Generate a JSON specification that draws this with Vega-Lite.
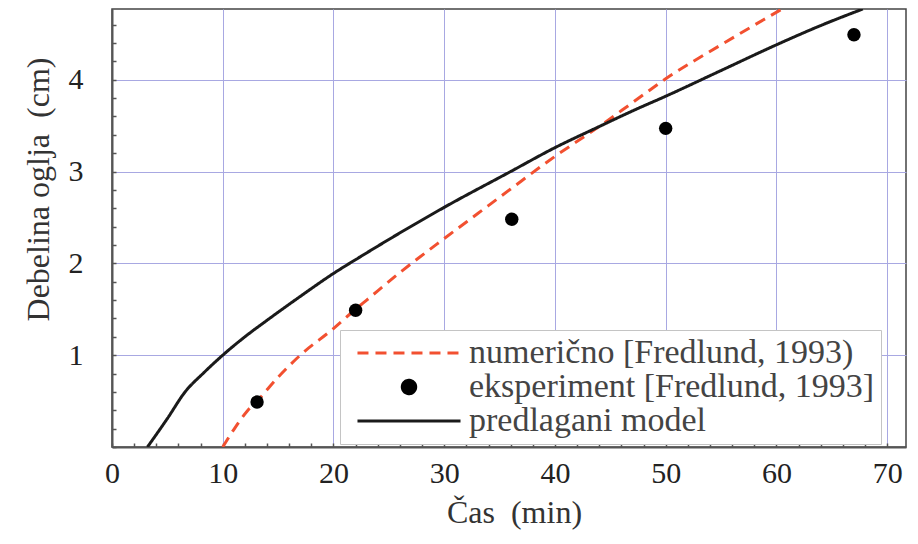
{
  "$schema": "https://vega.github.io/schema/vega-lite/v6.json",
  "autosize": "none",
  "width": 794,
  "height": 438,
  "padding": {"left": 112, "top": 9, "right": 12, "bottom": 97},
  "background": "white",
  "config": {
    "view": {"stroke": "#444", "strokeWidth": 1.5},
    "font": "Liberation Serif"
  },
  "datasets": {
    "curves": [
      {"series": "numerično [Fredlund, 1993)", "t": 10, "v": 0},
      {"series": "numerično [Fredlund, 1993)", "t": 11, "v": 0.19},
      {"series": "numerično [Fredlund, 1993)", "t": 12.2, "v": 0.39},
      {"series": "numerično [Fredlund, 1993)", "t": 13.1, "v": 0.5},
      {"series": "numerično [Fredlund, 1993)", "t": 15, "v": 0.76},
      {"series": "numerično [Fredlund, 1993)", "t": 17, "v": 1.0},
      {"series": "numerično [Fredlund, 1993)", "t": 19.9, "v": 1.28},
      {"series": "numerično [Fredlund, 1993)", "t": 21.9, "v": 1.49},
      {"series": "numerično [Fredlund, 1993)", "t": 23, "v": 1.6},
      {"series": "numerično [Fredlund, 1993)", "t": 26, "v": 1.9},
      {"series": "numerično [Fredlund, 1993)", "t": 30, "v": 2.27},
      {"series": "numerično [Fredlund, 1993)", "t": 33, "v": 2.54},
      {"series": "numerično [Fredlund, 1993)", "t": 36, "v": 2.81},
      {"series": "numerično [Fredlund, 1993)", "t": 40, "v": 3.165},
      {"series": "numerično [Fredlund, 1993)", "t": 43.75, "v": 3.47},
      {"series": "numerično [Fredlund, 1993)", "t": 47, "v": 3.75},
      {"series": "numerično [Fredlund, 1993)", "t": 50, "v": 4.01},
      {"series": "numerično [Fredlund, 1993)", "t": 55, "v": 4.38},
      {"series": "numerično [Fredlund, 1993)", "t": 60.5, "v": 4.77},
      {"series": "predlagani model", "t": 3.2, "v": 0},
      {"series": "predlagani model", "t": 5, "v": 0.31},
      {"series": "predlagani model", "t": 6.6, "v": 0.6},
      {"series": "predlagani model", "t": 8.3, "v": 0.81},
      {"series": "predlagani model", "t": 10, "v": 1.0},
      {"series": "predlagani model", "t": 12, "v": 1.2},
      {"series": "predlagani model", "t": 14, "v": 1.38},
      {"series": "predlagani model", "t": 17, "v": 1.64},
      {"series": "predlagani model", "t": 20, "v": 1.89},
      {"series": "predlagani model", "t": 22.4, "v": 2.07},
      {"series": "predlagani model", "t": 25, "v": 2.26},
      {"series": "predlagani model", "t": 30, "v": 2.61},
      {"series": "predlagani model", "t": 36, "v": 3.0},
      {"series": "predlagani model", "t": 40, "v": 3.26},
      {"series": "predlagani model", "t": 44, "v": 3.49},
      {"series": "predlagani model", "t": 47, "v": 3.66},
      {"series": "predlagani model", "t": 50, "v": 3.82},
      {"series": "predlagani model", "t": 55, "v": 4.1},
      {"series": "predlagani model", "t": 60, "v": 4.38},
      {"series": "predlagani model", "t": 64, "v": 4.59},
      {"series": "predlagani model", "t": 67.8, "v": 4.77}
    ],
    "points": [
      {"series": "eksperiment [Fredlund, 1993]", "t": 13.1, "v": 0.49},
      {"series": "eksperiment [Fredlund, 1993]", "t": 22, "v": 1.49},
      {"series": "eksperiment [Fredlund, 1993]", "t": 36.1, "v": 2.48},
      {"series": "eksperiment [Fredlund, 1993]", "t": 50, "v": 3.47},
      {"series": "eksperiment [Fredlund, 1993]", "t": 67, "v": 4.49}
    ]
  },
  "encoding": {
    "x": {
      "field": "t",
      "type": "quantitative",
      "scale": {"domain": [0, 71.7], "nice": false, "zero": false},
      "axis": {
        "values": [0,2,4,6,8,10,12,14,16,18,20,22,24,26,28,30,32,34,36,38,40,42,44,46,48,50,52,54,56,58,60,62,64,66,68,70],
        "labelExpr": "datum.value % 10 === 0 ? format(datum.value, 'd') : ''",
        "labelFont": "Liberation Serif",
        "labelFontSize": 30,
        "labelColor": "#222",
        "labelBaseline": "alphabetic",
        "labelPadding": 39,
        "labelFlush": false,
        "labelOverlap": false,
        "grid": true,
        "gridColor": "#a8a8e2",
        "gridWidth": 1,
        "gridOpacity": {"condition": {"test": "datum.value % 10 === 0 && datum.value > 0", "value": 1}, "value": 0},
        "ticks": true,
        "tickSize": -4,
        "tickColor": "#555",
        "tickWidth": 1.5,
        "domain": true,
        "domainColor": "#555",
        "domainWidth": 2,
        "title": "Čas\u00a0\u00a0(min)",
        "titleFont": "Liberation Serif",
        "titleFontSize": 32,
        "titleFontWeight": "normal",
        "titleColor": "#333",
        "titleX": 402,
        "titleY": 75,
        "titleAlign": "center",
        "titleBaseline": "alphabetic"
      }
    },
    "y": {
      "field": "v",
      "type": "quantitative",
      "scale": {"domain": [0, 4.77], "nice": false, "zero": false},
      "axis": {
        "values": [0,0.2,0.4,0.6,0.8,1,1.2,1.4,1.6,1.8,2,2.2,2.4,2.6,2.8,3,3.2,3.4,3.6,3.8,4,4.2,4.4,4.6],
        "labelExpr": "datum.value > 0 && abs(datum.value - round(datum.value)) < 0.001 ? format(datum.value, 'd') : ''",
        "labelFont": "Liberation Serif",
        "labelFontSize": 30,
        "labelColor": "#222",
        "labelAlign": "right",
        "labelBaseline": "middle",
        "labelPadding": 33,
        "labelFlush": false,
        "labelOverlap": false,
        "grid": true,
        "gridColor": "#a8a8e2",
        "gridWidth": 1,
        "gridOpacity": {"condition": {"test": "datum.value > 0 && abs(datum.value - round(datum.value)) < 0.001", "value": 1}, "value": 0},
        "ticks": true,
        "tickSize": -4,
        "tickColor": "#555",
        "tickWidth": 1.5,
        "domain": true,
        "domainColor": "#555",
        "domainWidth": 2,
        "title": "Debelina oglja\u00a0\u00a0(cm)",
        "titleFont": "Liberation Serif",
        "titleFontSize": 32,
        "titleFontWeight": "normal",
        "titleColor": "#333",
        "titleAngle": -90,
        "titleX": -74,
        "titleY": 180,
        "titleAlign": "center",
        "titleBaseline": "middle"
      }
    },
    "color": {
      "field": "series",
      "type": "nominal",
      "scale": {
        "domain": ["numerično [Fredlund, 1993)", "eksperiment [Fredlund, 1993]", "predlagani model"],
        "range": ["#f25030", "#000000", "#1a1a1a"]
      },
      "legend": {
        "title": null,
        "orient": "none",
        "legendX": 228,
        "legendY": 321,
        "direction": "vertical",
        "fillColor": "white",
        "strokeColor": "#c4c4c4",
        "padding": 6,
        "cornerRadius": 0,
        "symbolSize": 180,
        "symbolType": "circle",
        "symbolOffset": 46,
        "labelOffset": 43,
        "labelFont": "Liberation Serif",
        "labelFontSize": 34,
        "labelColor": "#444",
        "labelLimit": 600,
        "rowPadding": -4,
        "encode": {
          "symbols": {
            "update": {
              "shape": {"signal": "datum.value === 'eksperiment [Fredlund, 1993]' ? 'circle' : 'M-7.68,0L7.68,0'"},
              "size": {"value": 180},
              "fill": {"signal": "datum.value === 'eksperiment [Fredlund, 1993]' ? '#000000' : 'transparent'"},
              "stroke": {"signal": "datum.value === 'numerično [Fredlund, 1993)' ? '#f25030' : datum.value === 'predlagani model' ? '#1a1a1a' : 'transparent'"},
              "strokeWidth": {"value": 3},
              "strokeDash": {"signal": "datum.value === 'numerično [Fredlund, 1993)' ? [11, 7] : []"},
              "opacity": {"value": 1}
            }
          }
        }
      }
    }
  },
  "layer": [
    {
      "data": {"name": "curves"},
      "mark": {"type": "line", "strokeWidth": 3, "clip": true, "interpolate": "monotone"},
      "encoding": {
        "strokeDash": {
          "field": "series",
          "type": "nominal",
          "scale": {
            "domain": ["numerično [Fredlund, 1993)", "eksperiment [Fredlund, 1993]", "predlagani model"],
            "range": [[11, 7], [1, 0], [1, 0]]
          },
          "legend": null
        }
      }
    },
    {
      "data": {"name": "points"},
      "mark": {"type": "point", "filled": true, "size": 180, "opacity": 1, "clip": true}
    }
  ]
}
